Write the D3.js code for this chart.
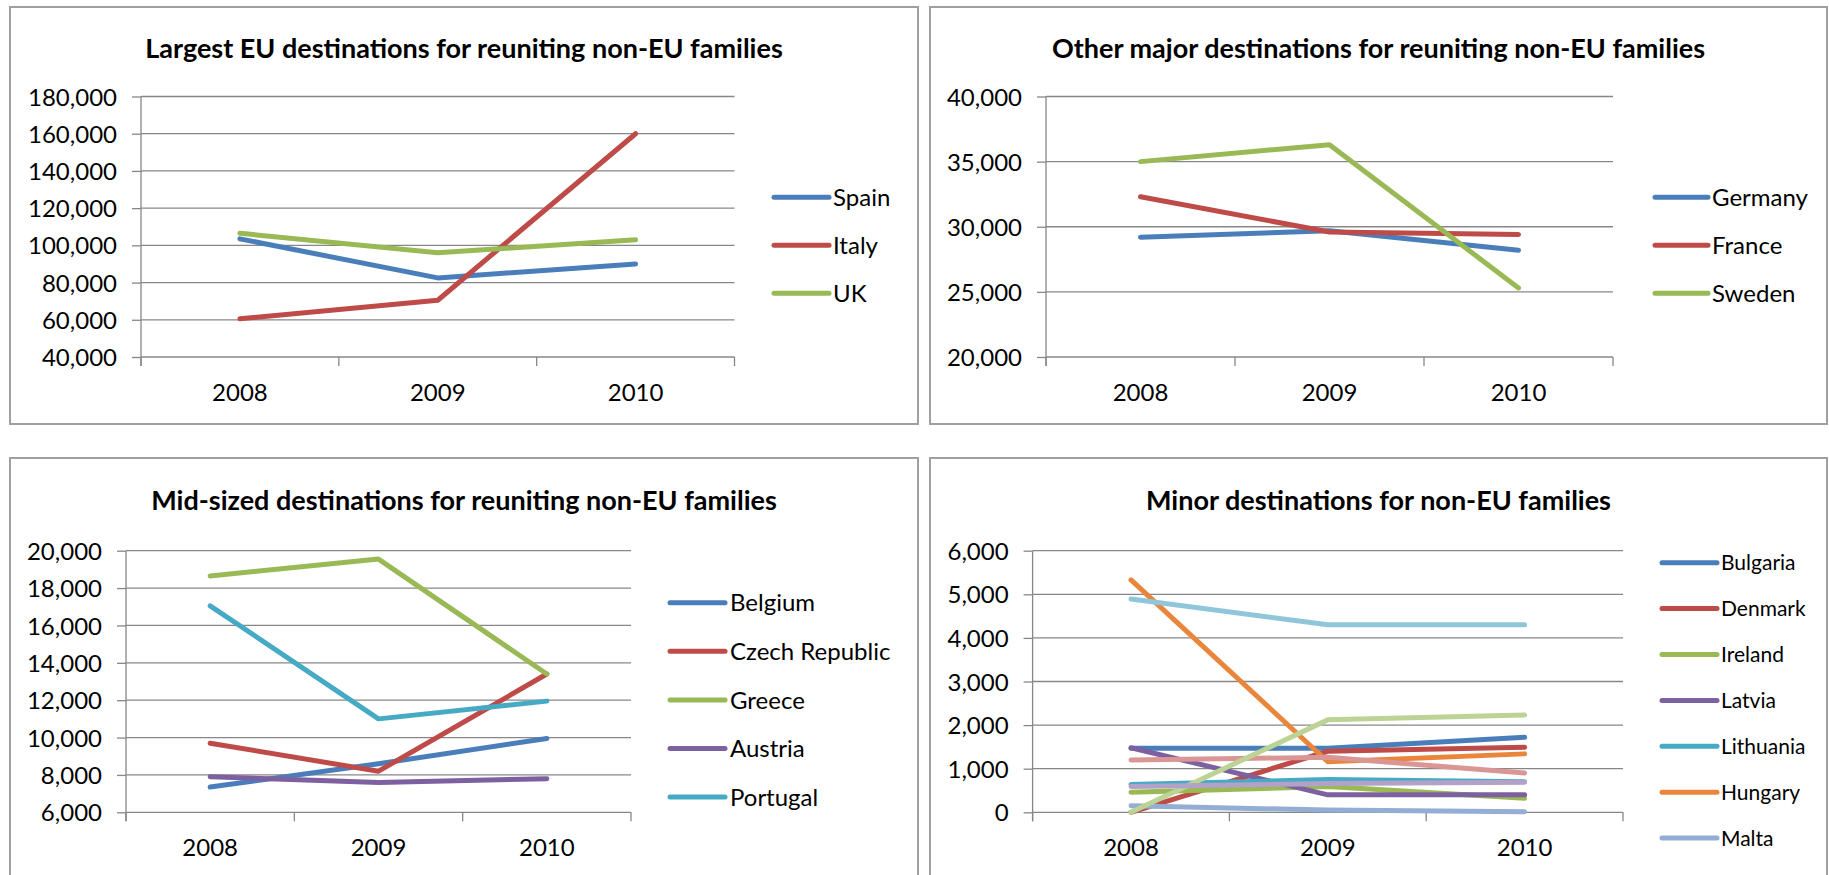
<!DOCTYPE html>
<html>
<head>
<meta charset="utf-8">
<script src="https://cdn.jsdelivr.net/npm/d3@7"></script>
<style>
  html, body { margin: 0; padding: 0; background: #ffffff; }
  svg { display: block; }
  text { font-family: Lato, "Open Sans", sans-serif; fill: #000; }
</style>
</head>
<body>
<svg id="chart" width="1829" height="875"></svg>
<script>
// ---------------- DATA ----------------
const years = ["2008", "2009", "2010"];

const largestTitle = "Largest EU destinations for reuniting non-EU families";
const largestNames = ["Spain", "Italy", "UK"];
const largestValues = [
  [103500, 82500, 90000],
  [60500, 70500, 160000],
  [106500, 96000, 103000]
];
const largestTicks = [40000, 60000, 80000, 100000, 120000, 140000, 160000, 180000];

const otherTitle = "Other major destinations for reuniting non-EU families";
const otherNames = ["Germany", "France", "Sweden"];
const otherValues = [
  [29200, 29700, 28200],
  [32300, 29600, 29400],
  [35000, 36300, 25300]
];
const otherTicks = [20000, 25000, 30000, 35000, 40000];

const midTitle = "Mid-sized destinations for reuniting non-EU families";
const midNames = ["Belgium", "Czech Republic", "Greece", "Austria", "Portugal"];
const midValues = [
  [7350, 8600, 9950],
  [9700, 8200, 13400],
  [18650, 19550, 13400],
  [7900, 7600, 7800],
  [17050, 11000, 11950]
];
const midTicks = [6000, 8000, 10000, 12000, 14000, 16000, 18000, 20000];

const minorTitle = "Minor destinations for non-EU families";
const minorNames = ["Bulgaria", "Denmark", "Ireland", "Latvia", "Lithuania", "Hungary", "Malta",
                    "Poland", "Romania", "Slovakia", "Finland"];
const minorValues = [
  [1470, 1470, 1720],
  [0, 1400, 1490],
  [460, 590, 320],
  [1480, 400, 400],
  [640, 750, 700],
  [5330, 1160, 1340],
  [150, 50, 15],
  [1200, 1260, 900],
  [0, 2120, 2230],
  [590, 660, 690],
  [4890, 4300, 4300]
];
const minorTicks = [0, 1000, 2000, 3000, 4000, 5000, 6000];

// ---------------- STYLE / LAYOUT ----------------
const palette = ["#4A7EBB", "#BE4B48", "#98B954", "#7D60A0", "#46AAC5", "#E9863C",
                 "#93ADD4", "#D99694", "#BBD394", "#B3A2C7", "#8FC6DA"];

const panels = [
  { title: largestTitle, names: largestNames, values: largestValues, ticks: largestTicks,
    box: { x: 10, y: 7, w: 908, h: 417 },
    plot: { left: 141, right: 734.5, top: 96.5, bottom: 357 },
    titleY: 58, legend: { x1: 774, x2: 829, tx: 833, y0: 197.3, dy: 48, size: 24 } },
  { title: otherTitle, names: otherNames, values: otherValues, ticks: otherTicks,
    box: { x: 930, y: 7, w: 897, h: 417 },
    plot: { left: 1046, right: 1613, top: 96.5, bottom: 357 },
    titleY: 58, legend: { x1: 1655, x2: 1708, tx: 1712, y0: 197.3, dy: 48, size: 24 } },
  { title: midTitle, names: midNames, values: midValues, ticks: midTicks,
    box: { x: 10, y: 458, w: 908, h: 500 },
    plot: { left: 126, right: 631, top: 550.7, bottom: 812.3 },
    titleY: 510, legend: { x1: 670, x2: 725, tx: 730, y0: 602.7, dy: 48.6, size: 24 } },
  { title: minorTitle, names: minorNames, values: minorValues, ticks: minorTicks,
    box: { x: 930, y: 458, w: 897, h: 500 },
    plot: { left: 1032.6, right: 1623, top: 550.7, bottom: 812.3 },
    titleY: 510, legend: { x1: 1662, x2: 1717, tx: 1721, y0: 562.7, dy: 45.9, size: 21 } }
];

const svg = d3.select("#chart");
const H = 875;
const gridColor = "#878787";
const fmt = d3.format(",");

panels.forEach(p => {
  const g = svg.append("g");

  // panel border
  g.append("rect")
    .attr("x", p.box.x).attr("y", p.box.y)
    .attr("width", p.box.w).attr("height", p.box.h)
    .attr("fill", "#fff").attr("stroke", "#a0a0a0").attr("stroke-width", 2);

  // title
  g.append("text")
    .attr("x", p.box.x + p.box.w / 2).attr("y", p.titleY)
    .attr("text-anchor", "middle")
    .attr("font-weight", 700).attr("font-size", 27)
    .text(p.title);

  const x = d3.scaleBand().domain(years).range([p.plot.left, p.plot.right]).paddingInner(0).paddingOuter(0);
  const y = d3.scaleLinear().domain(d3.extent(p.ticks)).range([p.plot.bottom, p.plot.top]);

  // gridlines
  g.append("g").selectAll("line").data(p.ticks).join("line")
    .attr("x1", p.plot.left).attr("x2", p.plot.right)
    .attr("y1", d => y(d)).attr("y2", d => y(d))
    .attr("stroke", gridColor).attr("stroke-width", 1.3);

  // y axis
  const yAxis = d3.axisLeft(y).tickValues(p.ticks).tickFormat(fmt).tickSize(9).tickPadding(15);
  const ya = g.append("g").attr("transform", `translate(${p.plot.left},0)`).call(yAxis);
  ya.select(".domain").remove();
  ya.selectAll(".tick line").attr("stroke", gridColor).attr("stroke-width", 1.3);
  ya.selectAll(".tick text").attr("font-size", 24).attr("font-family", "Lato").attr("fill", "#111")
    .attr("dy", "0.36em");
  g.append("line")
    .attr("x1", p.plot.left).attr("x2", p.plot.left)
    .attr("y1", p.plot.top).attr("y2", p.plot.bottom + 9)
    .attr("stroke", gridColor).attr("stroke-width", 1.3);

  // x axis: ticks on band boundaries, labels at band centres
  const bounds = years.map(d => x(d)).concat([p.plot.right]);
  g.append("g").selectAll("line").data(bounds).join("line")
    .attr("x1", d => d).attr("x2", d => d)
    .attr("y1", p.plot.bottom).attr("y2", p.plot.bottom + 9)
    .attr("stroke", gridColor).attr("stroke-width", 1.3);
  g.append("g").selectAll("text").data(years).join("text")
    .attr("x", d => x(d) + x.bandwidth() / 2)
    .attr("y", p.plot.bottom + 44)
    .attr("text-anchor", "middle")
    .attr("font-size", 24).attr("fill", "#111")
    .text(d => d);

  // series lines
  const line = d3.line()
    .x((d, i) => x(years[i]) + x.bandwidth() / 2)
    .y(d => y(d));
  g.append("g").selectAll("path").data(p.values).join("path")
    .attr("d", d => line(d))
    .attr("fill", "none")
    .attr("stroke", (d, i) => palette[i])
    .attr("stroke-width", 5)
    .attr("stroke-linejoin", "round")
    .attr("stroke-linecap", "round");

  // legend (only the entries that fit in the visible picture)
  const L = p.legend;
  const entries = p.names.map((n, i) => ({ n, i, yy: L.y0 + i * L.dy })).filter(e => e.yy + 10 < H);
  const lg = g.append("g").selectAll("g").data(entries).join("g");
  lg.append("line")
    .attr("x1", L.x1).attr("x2", L.x2)
    .attr("y1", e => e.yy).attr("y2", e => e.yy)
    .attr("stroke", e => palette[e.i]).attr("stroke-width", 5).attr("stroke-linecap", "round");
  lg.append("text")
    .attr("x", L.tx).attr("y", e => e.yy).attr("dy", "0.36em")
    .attr("font-size", L.size).attr("fill", "#111")
    .text(e => e.n);
});
</script>
</body>
</html>
